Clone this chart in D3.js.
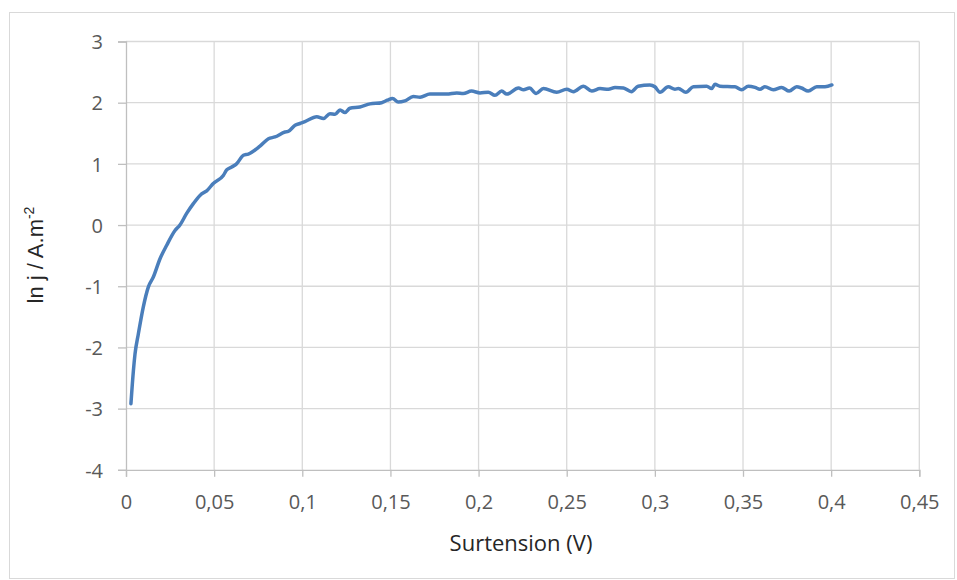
<!DOCTYPE html>
<html><head><meta charset="utf-8">
<script src="https://cdn.jsdelivr.net/npm/d3@7"></script>
<style>body{margin:0;background:#fff}svg{display:block}</style>
</head><body>
<script>
const xValues = [0.0028,0.0042,0.0051,0.0070,0.0098,0.0127,0.0155,0.0193,0.0231,0.0278,0.0306,0.0344,0.0382,0.0429,0.0458,0.0495,0.0552,0.0571,0.0600,0.0627,0.0666,0.0694,0.0760,0.0808,0.0845,0.0902,0.0920,0.0959,0.0987,0.1015,0.1082,0.1120,0.1157,0.1186,0.1214,0.1242,0.1270,0.1327,0.1384,0.1450,0.1482,0.1512,0.1544,0.1582,0.1630,0.1668,0.1724,0.1819,0.1876,0.1913,0.1960,0.2008,0.2055,0.2093,0.2131,0.2160,0.2226,0.2255,0.2289,0.2326,0.2368,0.2443,0.2500,0.2538,0.2595,0.2642,0.2689,0.2736,0.2774,0.2822,0.2867,0.2905,0.2972,0.3000,0.3029,0.3076,0.3114,0.3133,0.3176,0.3218,0.3294,0.3322,0.3341,0.3369,0.3454,0.3492,0.3530,0.3568,0.3596,0.3624,0.3672,0.3719,0.3762,0.3804,0.3832,0.3870,0.3918,0.3965,0.4004];
const yValues = [-2.92,-2.38,-2.11,-1.78,-1.34,-1.01,-0.85,-0.55,-0.33,-0.09,0.00,0.19,0.35,0.51,0.56,0.68,0.81,0.90,0.95,1.00,1.14,1.16,1.29,1.41,1.44,1.52,1.53,1.63,1.66,1.69,1.77,1.74,1.82,1.81,1.88,1.84,1.91,1.93,1.98,2.00,2.04,2.07,2.01,2.03,2.10,2.09,2.14,2.14,2.16,2.15,2.19,2.16,2.17,2.12,2.19,2.14,2.24,2.21,2.24,2.15,2.23,2.17,2.22,2.18,2.27,2.19,2.23,2.22,2.25,2.24,2.18,2.27,2.29,2.26,2.17,2.26,2.22,2.23,2.17,2.26,2.27,2.23,2.30,2.27,2.26,2.21,2.27,2.25,2.22,2.26,2.21,2.25,2.19,2.26,2.24,2.19,2.26,2.26,2.29];
const xTicks = [0,0.05,0.1,0.15,0.2,0.25,0.3,0.35,0.4,0.45];
const xTickLabels = ["0","0,05","0,1","0,15","0,2","0,25","0,3","0,35","0,4","0,45"];
const yTicks = [-4,-3,-2,-1,0,1,2,3];
const xTitle = "Surtension (V)";
const yTitle = "ln j / A.m";
const yTitleSup = "-2";

const W = 957, H = 580;
const svg = d3.select("body").append("svg").attr("width", W).attr("height", H);
svg.append("rect").attr("x", 9.5).attr("y", 12.5).attr("width", 945).attr("height", 566)
  .attr("fill", "#fff").attr("stroke", "#d9d9d9").attr("stroke-width", 1);

const x = d3.scaleLinear().domain([0, 0.45]).range([126, 919.3]);
const y = d3.scaleLinear().domain([-4, 3]).range([469.8, 41.5]);

const grid = svg.append("g");
xTicks.forEach(t => {
  if (t === 0) return;
  grid.append("line").attr("x1", x(t)).attr("x2", x(t)).attr("y1", y(3)).attr("y2", y(-4))
    .attr("stroke", "#d9d9d9").attr("stroke-width", 1.3);
});
yTicks.forEach(t => {
  if (t === -4) return;
  grid.append("line").attr("x1", x(0)).attr("x2", x(0.45)).attr("y1", y(t)).attr("y2", y(t))
    .attr("stroke", "#d9d9d9").attr("stroke-width", 1.3);
});

// axes
const xAxis = d3.axisBottom(x).tickValues(xTicks).tickSize(7).tickFormat((d, i) => xTickLabels[i]);
const gx = svg.append("g").attr("transform", `translate(0,${y(-4)})`).call(xAxis);
gx.select(".domain").attr("stroke", "#bfbfbf").attr("stroke-width", 1.3);
gx.selectAll(".tick line").attr("stroke", "#bfbfbf").attr("stroke-width", 1.3);
gx.selectAll(".tick text").attr("fill", "#595959").attr("font-family", "Open Sans").attr("font-size", 20).attr("dy", 0).attr("y", 39);

const yAxis = d3.axisLeft(y).tickValues(yTicks).tickSize(8).tickFormat(d => String(d));
const gy = svg.append("g").attr("transform", `translate(${x(0)},0)`).call(yAxis);
gy.select(".domain").attr("stroke", "#bfbfbf").attr("stroke-width", 1.3);
gy.selectAll(".tick line").attr("stroke", "#bfbfbf").attr("stroke-width", 1.3);
gy.selectAll(".tick text").attr("fill", "#595959").attr("font-family", "Open Sans").attr("font-size", 20).attr("x", -23).attr("dy", "0.36em");

// line
const data = xValues.map((v, i) => [v, yValues[i]]);
svg.append("path").datum(data)
  .attr("fill", "none").attr("stroke", "#4a7ebb").attr("stroke-width", 3.5)
  .attr("stroke-linejoin", "round").attr("stroke-linecap", "round")
  .attr("d", d3.line().curve(d3.curveMonotoneX).x(d => x(d[0])).y(d => y(d[1])));

// titles
svg.append("text").attr("x", 521).attr("y", 551).attr("text-anchor", "middle")
  .attr("fill", "#262626").attr("font-family", "Open Sans").attr("font-size", 22).text(xTitle);
const yt = svg.append("text").attr("transform", "translate(43,255) rotate(-90)").attr("text-anchor", "middle")
  .attr("fill", "#262626").attr("font-family", "Liberation Sans").attr("font-size", 22);
yt.append("tspan").text(yTitle);
yt.append("tspan").attr("font-size", 14).attr("dy", -9).text(yTitleSup);
</script>
</body></html>
